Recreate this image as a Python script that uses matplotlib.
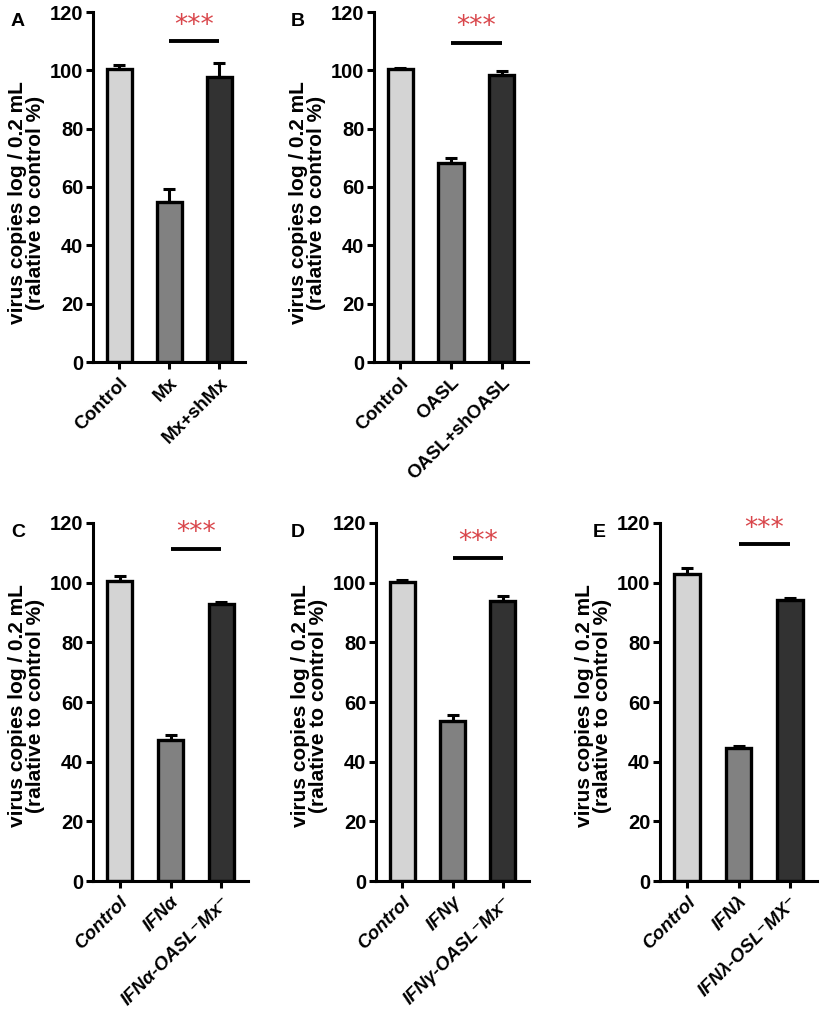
import matplotlib
matplotlib.use("Agg")
import matplotlib.pyplot as plt
import numpy as np

plt.rcParams['font.family'] = ['Liberation Sans', 'DejaVu Sans']
plt.rcParams['font.weight'] = 'bold'

# ---------------- data ----------------
labels_A = ["Control", "Mx", "Mx+shMx"]
values_A = [100.5, 55.0, 97.7]
errors_A = [1.3, 4.3, 4.8]
sig_A = 110.0

labels_B = ["Control", "OASL", "OASL+shOASL"]
values_B = [100.4, 68.1, 98.4]
errors_B = [0.5, 2.0, 1.2]
sig_B = 109.5

labels_C = ["Control", "IFNα", "IFNα-OASL⁻Mx⁻"]
values_C = [100.5, 47.3, 93.0]
errors_C = [1.6, 1.7, 0.4]
sig_C = 111.3

labels_D = ["Control", "IFNγ", "IFNγ-OASL⁻Mx⁻"]
values_D = [100.3, 53.6, 93.9]
errors_D = [0.7, 2.2, 1.5]
sig_D = 108.2

labels_E = ["Control", "IFNλ", "IFNλ-OSL⁻MX⁻"]
values_E = [103.0, 44.5, 94.2]
errors_E = [1.8, 0.9, 0.8]
sig_E = 112.8

yticks = [0, 20, 40, 60, 80, 100, 120]
bar_colors = ["#d4d4d4", "#818181", "#323232"]
star_color = "#d9464b"
ylabel_text = "virus copies log / 0.2 mL\n(ralative to control %)"

W, H = 825, 1013
fig = plt.figure(figsize=(W / 100, H / 100), dpi=100)


def make_axes(left, right, top, bottom):
    return fig.add_axes([left / W, 1 - bottom / H, (right - left) / W, (bottom - top) / H])


panels = [
    dict(letter="A", box=(93, 245, 12, 362), labels=labels_A, values=values_A, errors=errors_A,
         sig=sig_A, italic=False, lab_y=0.455, letter_xy=(11, 13)),
    dict(letter="B", box=(374, 528, 12, 362), labels=labels_B, values=values_B, errors=errors_B,
         sig=sig_B, italic=False, lab_y=0.455, letter_xy=(291, 13)),
    dict(letter="C", box=(93, 248, 523, 881), labels=labels_C, values=values_C, errors=errors_C,
         sig=sig_C, italic=True, lab_y=0.49, letter_xy=(11, 524)),
    dict(letter="D", box=(376, 529, 523, 881), labels=labels_D, values=values_D, errors=errors_D,
         sig=sig_D, italic=True, lab_y=0.49, letter_xy=(291, 524)),
    dict(letter="E", box=(660, 817, 523, 881), labels=labels_E, values=values_E, errors=errors_E,
         sig=sig_E, italic=True, lab_y=0.49, letter_xy=(593, 524)),
]

for p in panels:
    l, r, t, b = p["box"]
    ax = make_axes(l, r, t, b)
    x = np.arange(len(p["values"]))
    ax.bar(x, p["values"], width=0.5, color=bar_colors, edgecolor="black", linewidth=2.4, zorder=2)
    ax.errorbar(x, p["values"], yerr=[np.zeros(len(x)), p["errors"]], fmt="none",
                ecolor="black", elinewidth=2.2, capsize=4.5, capthick=2.2, zorder=3)
    ax.set_xlim(-0.52, 2.52)
    ax.set_ylim(0, 120)
    ax.set_yticks(yticks)
    ax.set_yticklabels([str(v) for v in yticks], fontsize=14.5, fontweight="bold")
    ax.set_xticks(x)
    ax.set_xticklabels(p["labels"], rotation=45, ha="right", rotation_mode="anchor",
                       fontsize=13.5, fontweight="bold",
                       fontstyle="italic" if p["italic"] else "normal")
    for s in ["top", "right"]:
        ax.spines[s].set_visible(False)
    for s in ["left", "bottom"]:
        ax.spines[s].set_linewidth(2.2)
    ax.tick_params(axis="both", width=2.2, length=5, pad=2)
    ax.tick_params(axis="x", pad=4)
    ax.set_ylabel(ylabel_text, fontsize=15, fontweight="bold", linespacing=0.9)
    ax.yaxis.set_label_coords(-48 / (r - l), p["lab_y"])
    # significance bar
    ax.plot([1, 2], [p["sig"], p["sig"]], color="black", linewidth=2.8, solid_capstyle="butt",
            clip_on=False, zorder=4)
    ax.text(1.5, p["sig"] + 5.3, "***", color=star_color, fontsize=19, fontweight="normal",
            ha="center", va="center", clip_on=False, family=["DejaVu Sans"])
    fig.text(p["letter_xy"][0] / W, 1 - p["letter_xy"][1] / H, p["letter"], fontsize=14,
             fontweight="bold", ha="left", va="top")

fig.savefig("out.png", dpi=100)
